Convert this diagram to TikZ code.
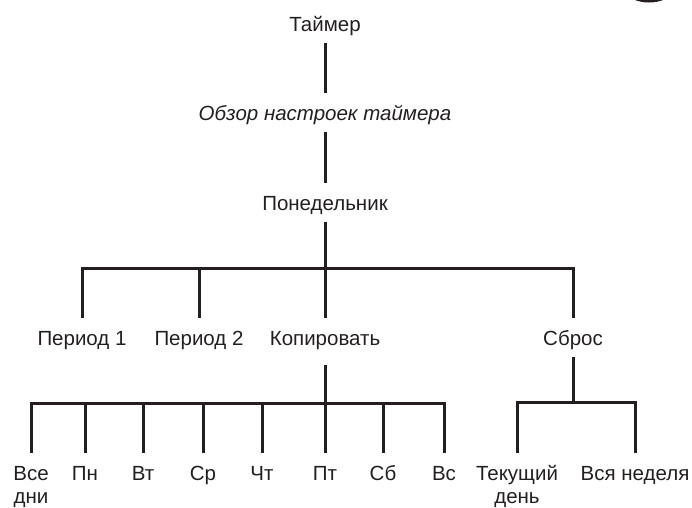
\documentclass[tikz,border=0pt]{standalone}
\usepackage{fontspec}
\setmainfont{Liberation Sans}
\usepackage{xcolor}
\usepackage{tikz}
\usetikzlibrary{positioning, calc}
\definecolor{inkgray}{RGB}{35,31,32}
\newcommand{\menufont}{\fontsize{20.5}{23}\selectfont}

\begin{document}
\begin{tikzpicture}[x=1pt, y=-1pt,
  item/.style={anchor=base, font=\menufont, text=inkgray, align=center,
               text height=19pt, text depth=4pt, inner xsep=2pt, inner ysep=8pt},
  twoline/.style={item, text height=42pt},
  link/.style={line width=3pt, inkgray},
]
\useasboundingbox (0,0) rectangle (692,507);

% menu path
\node[item] (timer)  at (325,31)  {Таймер};
\node[item] (review) at (325,120) {\itshape Обзор настроек таймера};
\node[item] (monday) at (325,210) {Понедельник};

\node[item] (period1) at (82,345)  {Период 1};
\node[item] (period2) at (199,345) {Период 2};
\node[item] (copy)    at (325,345) {Копировать};
\node[item] (reset)   at (573,345) {Сброс};

\node[twoline] (alldays) at (31,503) {Все\\дни};
\node[item] (mo)      at (85,480)  {Пн};
\node[item] (tu)      at (143,480) {Вт};
\node[item] (we)      at (203,480) {Ср};
\node[item] (th)      at (262,480) {Чт};
\node[item] (fr)      at (325,480) {Пт};
\node[item] (sa)      at (383,480) {Сб};
\node[item] (su)      at (444,480) {Вс};

\node[twoline] (today) at (517,503) {Текущий\\день};
\node[item] (week)    at (635,480) {Вся неделя};

\coordinate (split1) at (325,268);
\coordinate (split2) at (325,403);
\coordinate (split3) at (573,402);

\draw[link] (timer) -- (review);
\draw[link] (review) -- (monday);
\draw[link] (monday) -- (split1);
\draw[link] (split1) -| (period1);
\draw[link] (split1) -| (period2);
\draw[link] (split1) -- (copy);
\draw[link] (split1) -| (reset);

\draw[link] ([yshift=-8pt]copy.south) -- (split2);
\foreach \d in {alldays,mo,tu,we,th,fr,sa,su}
  \draw[link] (split2) -| (\d);

\draw[link] (reset) -- (split3);
\draw[link] (split3) -| (today);
\draw[link] (split3) -| (week);

% cut-off mark at the top edge
\draw[line width=3pt, inkgray] (649,-39) circle[radius=40];
\end{tikzpicture}
\end{document}
